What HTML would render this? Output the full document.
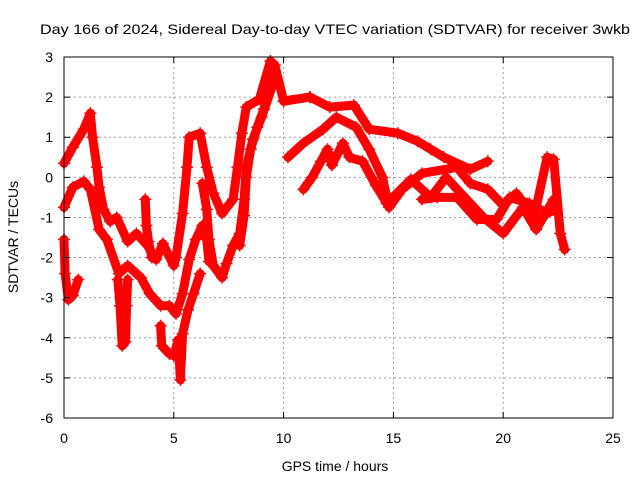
<!DOCTYPE html>
<html><head><meta charset="utf-8"><style>
html,body{margin:0;padding:0;background:#fff}
svg{display:block;font-family:"Liberation Sans",sans-serif}
</style></head><body>
<svg id="chart" width="640" height="480" viewBox="0 0 640 480" xmlns="http://www.w3.org/2000/svg">
<rect width="640" height="480" fill="#fff"/>
<g id="grid"></g>
<g id="series"></g>
<rect x="64" y="57" width="549" height="361" fill="none" stroke="#000" stroke-width="1"/>
<g id="ticks" font-size="14" fill="#000"></g>
<text x="335" y="34" font-size="14" text-anchor="middle" textLength="590" lengthAdjust="spacingAndGlyphs">Day 166 of 2024, Sidereal Day-to-day VTEC variation (SDTVAR) for receiver 3wkb</text>
<text x="335" y="471" font-size="14" text-anchor="middle">GPS time / hours</text>
<text x="0" y="0" font-size="14" text-anchor="middle" transform="translate(18,237) rotate(-90)">SDTVAR / TECUs</text>
</svg>
<script>
const xTicks=[0,5,10,15,20,25];
const yTicks=[3,2,1,0,-1,-2,-3,-4,-5,-6];
const trackA=[[0,0.35],[0.4,0.75],[0.9,1.2],[1.2,1.6],[1.3,1.0],[1.5,0.25],[1.6,-0.25],[1.8,-0.8],[2.1,-1.1],[2.4,-1.0],[2.9,-1.6],[3.3,-1.4],[3.8,-1.7],[4.2,-2.05],[4.5,-1.65],[5.0,-2.2],[5.1,-2.0],[5.4,-0.9],[5.6,0.25],[5.7,1.0],[6.2,1.1],[6.5,0.25],[6.8,-0.4],[7.2,-0.9],[7.7,-0.55],[7.9,0.25],[8.1,1.1],[8.3,1.75],[8.9,1.95],[9.4,2.9],[9.6,2.8],[10.0,1.9],[11.2,2.0]];
const trackB=[[0,-0.75],[0.4,-0.25],[0.9,-0.1],[1.2,-0.3],[1.6,-1.3],[1.95,-1.55],[2.5,-2.4],[2.9,-2.2],[3.5,-2.5],[3.9,-2.9],[4.4,-3.2],[4.8,-3.2],[5.1,-3.4],[5.4,-2.9],[5.7,-2.05],[6.0,-1.55],[6.3,-1.2],[6.5,-1.55],[6.6,-2.1]];
const trackC=[[0,-1.55],[0.05,-2.4],[0.2,-3.05],[0.4,-2.95],[0.65,-2.55]];
const trackD=[[2.45,-2.55],[2.55,-3.2],[2.65,-4.2],[2.8,-4.1],[2.85,-3.2],[2.9,-2.55]];
const trackE=[[4.4,-3.7],[4.45,-4.2],[4.8,-4.4],[5.0,-4.45],[5.2,-4.05],[5.3,-5.05],[5.4,-3.9],[5.65,-3.3],[5.9,-2.9],[6.2,-2.4]];
const trackF=[[3.7,-0.55],[3.75,-1.2],[3.85,-1.6],[4.0,-2.0]];
const trackG=[[6.3,-0.15],[6.5,-0.8],[6.6,-1.55],[6.8,-2.2],[7.2,-2.5],[7.4,-2.15],[7.7,-1.7],[8.0,-1.4],[8.2,-0.55],[8.3,0.25],[8.6,0.95],[9.0,1.5],[9.5,2.3]];
const trackH=[[8.0,-1.7],[8.2,-0.95],[8.3,0.0],[8.5,0.7],[8.8,1.25],[9.1,1.7],[9.5,2.5]];
const trackI=[[10.0,1.9],[11.2,2.0],[12.1,1.75],[13.2,1.8],[13.9,1.2],[15.2,1.1],[16.1,0.9],[16.7,0.7],[17.3,0.5],[18.5,0.2],[19.3,0.4]];
const trackJ=[[10.2,0.5],[10.9,0.85],[11.8,1.2],[12.4,1.5],[13.3,1.25],[13.9,0.7],[14.5,0],[14.8,-0.75],[15.4,-0.3],[16.3,0.1],[17.9,0.25],[18.5,-0.15],[19.3,-0.3],[20.0,-0.7],[20.6,-0.4],[21.4,-1.0],[22.0,0.5],[22.3,0.45],[22.6,-1.4],[22.8,-1.8]];
const trackK=[[10.9,-0.3],[11.3,0],[11.7,0.4],[12.0,0.7],[12.2,0.3],[12.7,0.85],[13.0,0.5],[13.6,0.4],[14.2,-0.2],[14.7,-0.65]];
const trackL=[[14.7,-0.65],[15.8,-0.05],[16.7,-0.5],[17.4,0],[18.5,-0.65],[19.1,-1.0],[20.0,-1.4],[20.9,-0.75],[21.5,-1.3],[22.3,-0.55]];
const trackM=[[16.3,-0.55],[17.0,-0.5],[17.9,-0.5],[18.8,-1.05],[19.7,-1.05],[20.3,-0.5],[21.2,-0.65],[22.0,-0.9],[22.4,-0.8]];
const tracks=[trackA,trackB,trackC,trackD,trackE,trackF,trackG,trackH,trackI,trackJ,trackK,trackL,trackM];
const NS="http://www.w3.org/2000/svg";
function xs(t){return 64+(t-0)*549/25;}
function ys(v){return 57+(3-v)*361/9;}
const grid=document.getElementById('grid'),ticks=document.getElementById('ticks'),ser=document.getElementById('series');
xTicks.forEach(t=>{
  const x=xs(t);
  if(t>0&&t<25){const l=document.createElementNS(NS,'line');
  
  
  l.setAttribute('x1',x);l.setAttribute('x2',x);l.setAttribute('y1',57);l.setAttribute('y2',418);
  l.setAttribute('stroke','#a0a0a0');l.setAttribute('stroke-dasharray','2,3');grid.appendChild(l);}
  const tk=document.createElementNS(NS,'path');
  
  
  tk.setAttribute('d',`M${x},418v-6M${x},57v6`);tk.setAttribute('stroke','#000');ticks.appendChild(tk);
  const tx=document.createElementNS(NS,'text');
  
  
  tx.setAttribute('x',x);tx.setAttribute('y',443);tx.setAttribute('text-anchor','middle');tx.textContent=t;ticks.appendChild(tx);
});
yTicks.forEach(v=>{
  const y=ys(v);
  if(v<3&&v>-6){const l=document.createElementNS(NS,'line');
  
  
  l.setAttribute('x1',64);l.setAttribute('x2',613);l.setAttribute('y1',y);l.setAttribute('y2',y);
  l.setAttribute('stroke','#a0a0a0');l.setAttribute('stroke-dasharray','2,3');grid.appendChild(l);}
  const tk=document.createElementNS(NS,'path');
  
  
  tk.setAttribute('d',`M64,${y}h6M613,${y}h-6`);tk.setAttribute('stroke','#000');ticks.appendChild(tk);
  const tx=document.createElementNS(NS,'text');
  
  
  tx.setAttribute('x',53);tx.setAttribute('y',y+5);tx.setAttribute('text-anchor','end');tx.textContent=v;ticks.appendChild(tx);
});
tracks.forEach(tr=>{
  const pl=document.createElementNS(NS,'polyline');
  
  
  pl.setAttribute('points',tr.map(p=>xs(p[0])+','+ys(p[1])).join(' '));
  pl.setAttribute('fill','none');pl.setAttribute('stroke','#ff0000');pl.setAttribute('stroke-width','9');pl.setAttribute('stroke-linejoin','round');pl.setAttribute('stroke-linecap','round');
  ser.appendChild(pl);
  tr.forEach(p=>{
    const m=document.createElementNS(NS,'path');
    
    
    const x=xs(p[0]),y=ys(p[1]);
    m.setAttribute('d',`M${x-6},${y}h12M${x},${y-6}v12`);m.setAttribute('stroke','#ff0000');m.setAttribute('stroke-width','1.5');
    ser.appendChild(m);
  });
});
</script>
</body></html>
